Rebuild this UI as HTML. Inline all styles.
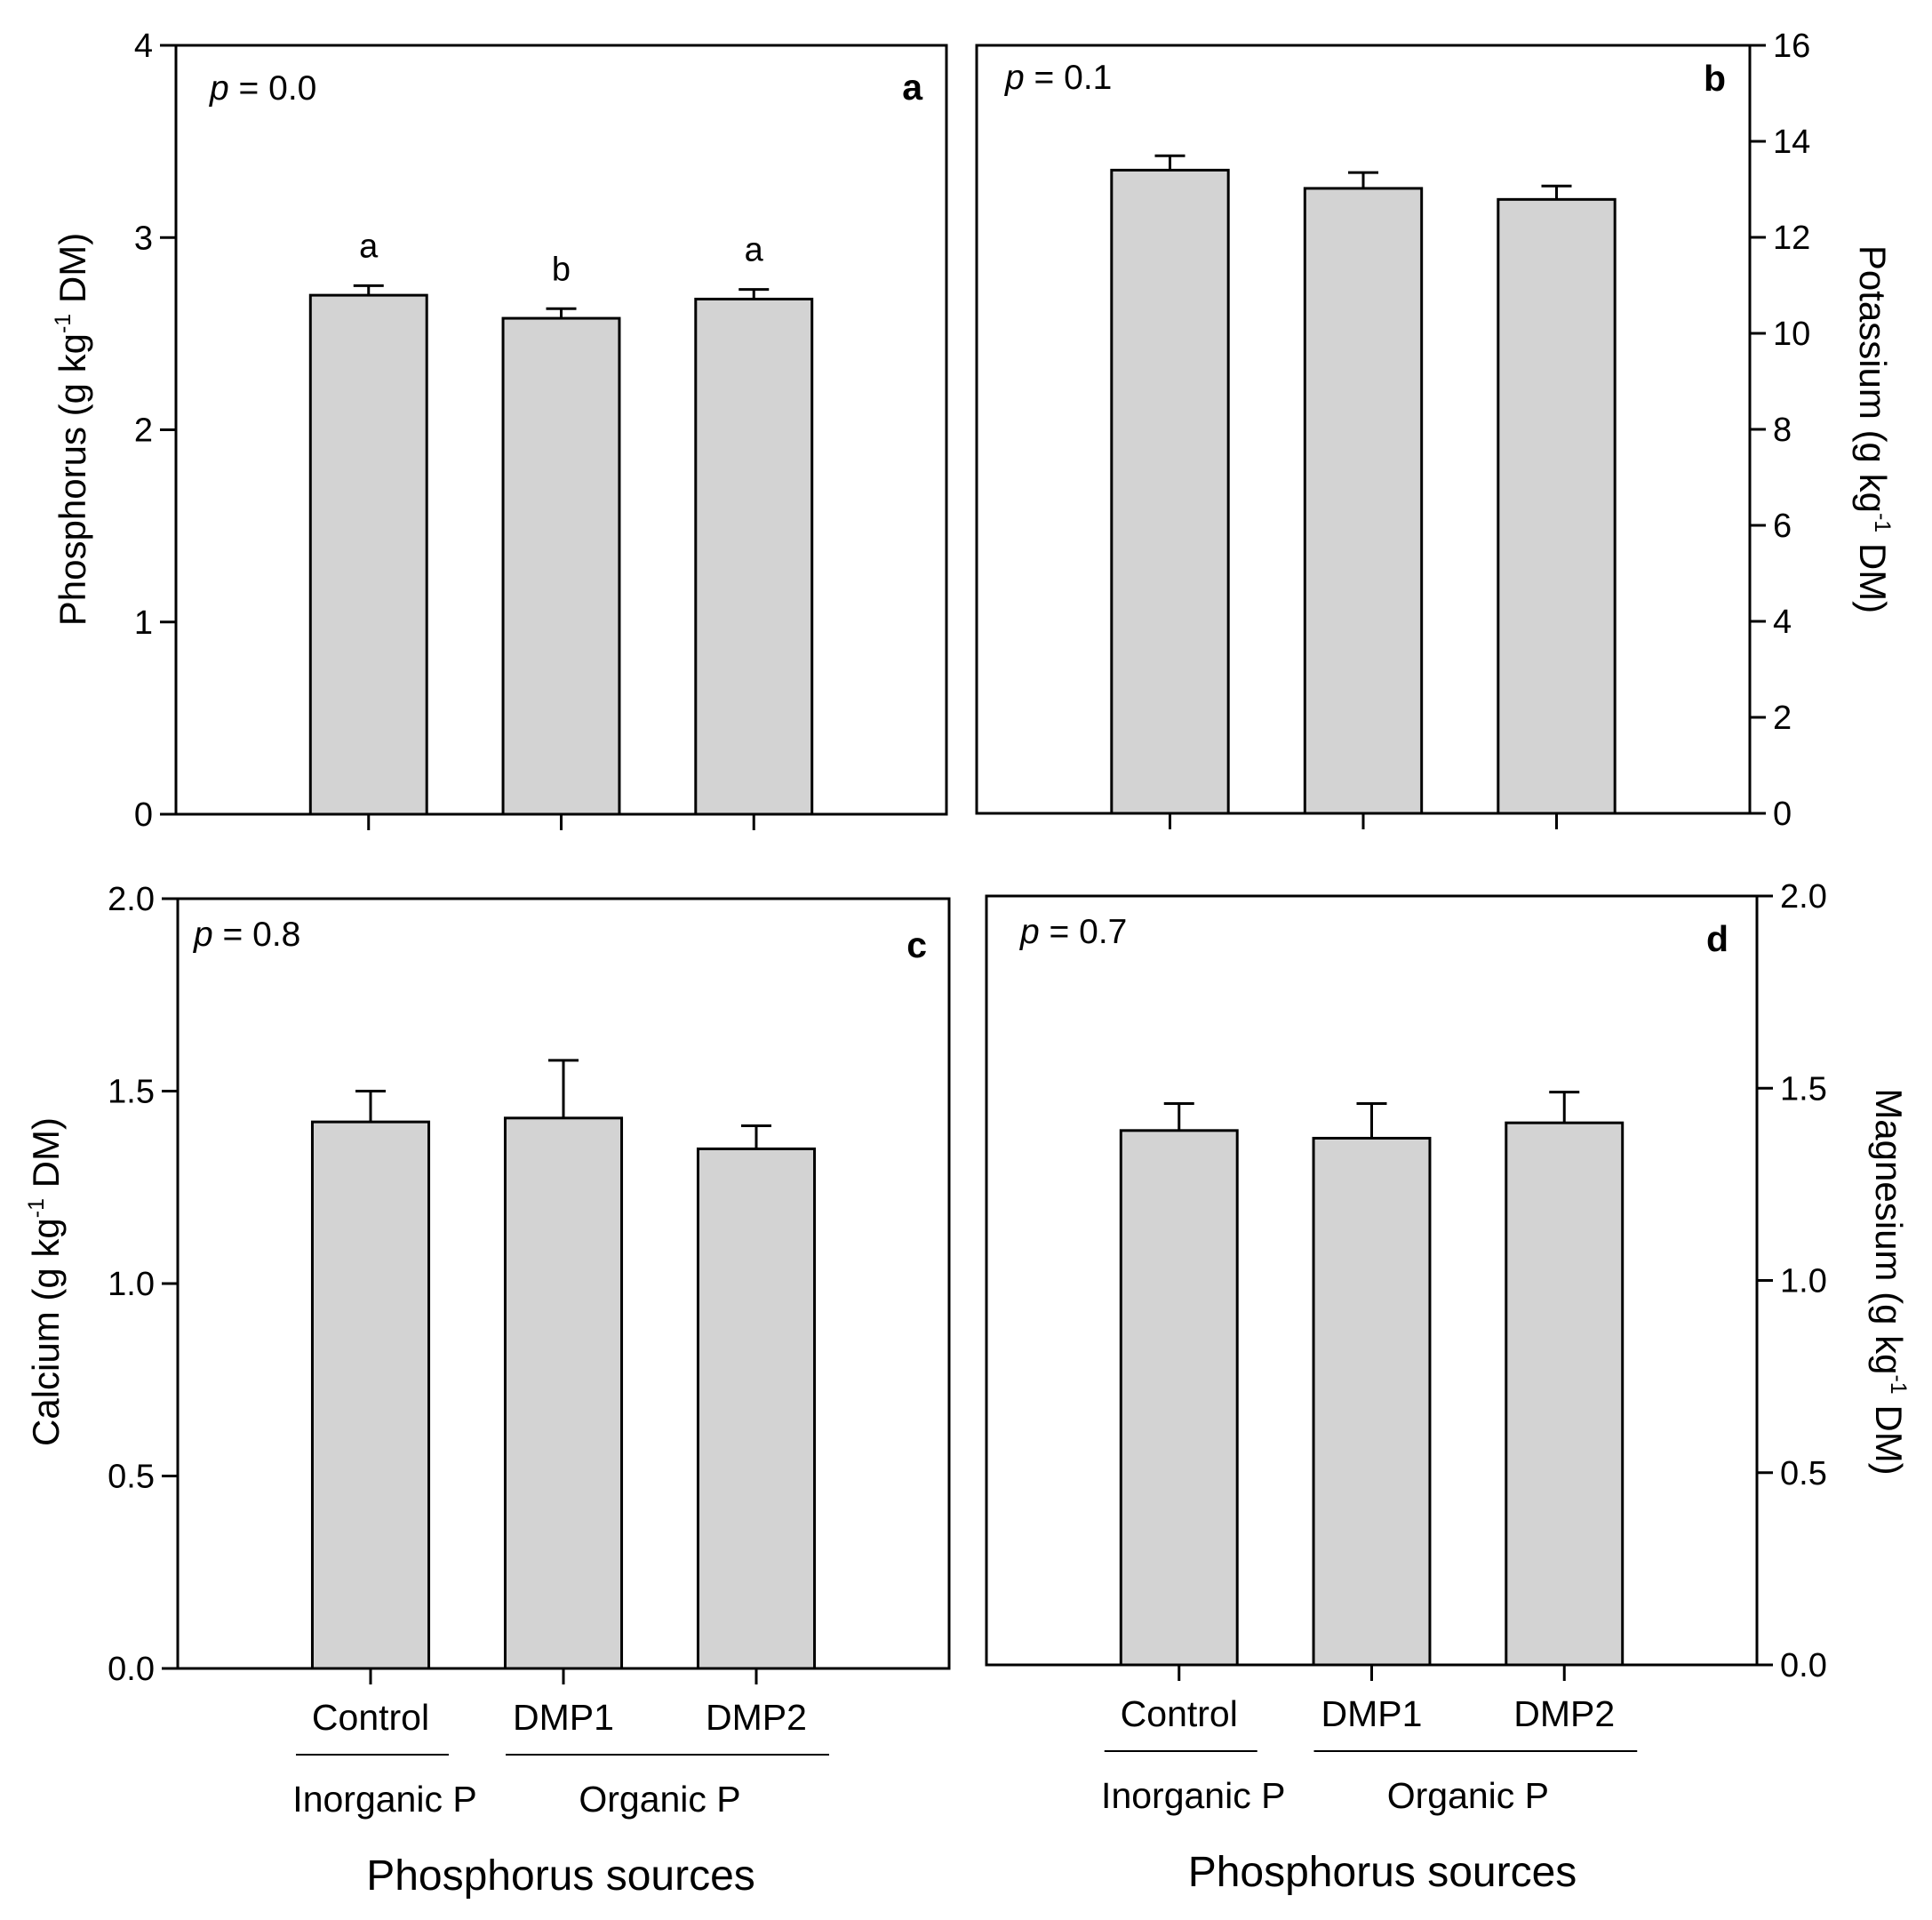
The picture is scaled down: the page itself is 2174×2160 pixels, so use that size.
<!DOCTYPE html>
<html><head><meta charset="utf-8"><style>
html,body{margin:0;padding:0;background:#fff}
svg{display:block;font-family:"Liberation Sans",Arial,sans-serif}
</style></head><body>
<svg id="fig" width="2174" height="2160" viewBox="0 0 2174 2160" xmlns="http://www.w3.org/2000/svg"></svg>
<script>
const categories = ["Control","DMP1","DMP2"];
const phosValues = [2.70, 2.58, 2.68];
const phosErrors = [0.05, 0.05, 0.05];
const phosLetters = ["a","b","a"];
const potValues = [13.4, 13.02, 12.79];
const potErrors = [0.3, 0.33, 0.28];
const calValues = [1.42, 1.43, 1.35];
const calErrors = [0.08, 0.15, 0.06];
const magValues = [1.39, 1.37, 1.41];
const magErrors = [0.07, 0.09, 0.08];
const ticksA = ["0","1","2","3","4"];
const ticksB = ["0","2","4","6","8","10","12","14","16"];
const ticksCD = ["0.0","0.5","1.0","1.5","2.0"];

const NS="http://www.w3.org/2000/svg";
const svg=document.getElementById('fig');
function el(tag,attrs,parent){const e=document.createElementNS(NS,tag);for(const k in attrs)e.setAttribute(k,attrs[k]);(parent||svg).appendChild(e);return e;}

function panel(o){
  const g=el('g',{});
  
  
  const {x0,x1,y0,y1,max,ticks,values,errors,side}=o;
  const w=x1-x0,h=y1-y0;
  const ys=v=>y1-v/max*h;
  const xs=i=>x0+w*(i+1)/4;
  const bw=w*0.151;
  values.forEach((v,i)=>{
    const cx=xs(i);
    const eb=el('line',{x1:cx,x2:cx,y1:ys(v),y2:ys(v+errors[i]),stroke:'#000','stroke-width':3},g);
    
    
    const cap=el('line',{x1:cx-17,x2:cx+17,y1:ys(v+errors[i]),y2:ys(v+errors[i]),stroke:'#000','stroke-width':3},g);
    
    
    const r=el('rect',{x:cx-bw/2,y:ys(v),width:bw,height:y1-ys(v),fill:'#d3d3d3',stroke:'#000','stroke-width':3},g);
    
    
    const t=el('line',{x1:cx,x2:cx,y1:y1,y2:y1+18,stroke:'#000','stroke-width':3},g);
    
    
    if(o.letters){
      const lt=el('text',{x:cx,y:ys(v+errors[i])-32,'font-size':38,'text-anchor':'middle'},g);
      lt.textContent=o.letters[i];
      
      
    }
  });
  const fr=el('rect',{x:x0,y:y0,width:w,height:h,fill:'none',stroke:'#000','stroke-width':3},g);
  
  
  ticks.forEach((lab,i)=>{
    const v=i*max/(ticks.length-1);const y=ys(v);
    const ax=side==='left'?x0:x1;const d=side==='left'?-18:18;
    const tk=el('line',{x1:ax,x2:ax+d,y1:y,y2:y,stroke:'#000','stroke-width':3},g);
    
    
    const tl=el('text',{x:side==='left'?ax-26:ax+26,y:y+13,'font-size':38,'text-anchor':side==='left'?'end':'start'},g);
    tl.textContent=lab;
    
    
  });
  const pt=el('text',{x:o.px,y:o.py,'font-size':39},g);
  pt.innerHTML='<tspan font-style="italic">p</tspan> = '+o.p;
  
  
  const pl=el('text',{x:o.lx,y:o.ly,'font-size':41,'font-weight':'bold','text-anchor':'end'},g);
  pl.textContent=o.label;
  
  
  const rot=side==='left'?-90:90;
  const yt=el('text',{x:o.tx,y:o.ty,'font-size':42,'text-anchor':'middle',transform:`rotate(${rot} ${o.tx} ${o.ty})`},g);
  yt.innerHTML=o.title+' (g kg<tspan dy="-17" font-size="25">-1</tspan><tspan dy="17"> DM)</tspan>';
  
  
  if(o.xlabels){
    categories.forEach((c,i)=>{
      const t=el('text',{x:xs(i),y:o.catY,'font-size':41,'text-anchor':'middle'},g);
      t.textContent=c;
      
      
    });
    const l1=el('line',{x1:xs(0)-84,x2:xs(0)+88,y1:o.catY+28,y2:o.catY+28,stroke:'#000','stroke-width':2},g);
    
    
    const l2=el('line',{x1:xs(1)-65,x2:xs(2)+82,y1:o.catY+28,y2:o.catY+28,stroke:'#000','stroke-width':2},g);
    
    
    const g1=el('text',{x:xs(0)+16,y:o.catY+92,'font-size':41,'text-anchor':'middle'},g);
    g1.textContent='Inorganic P';
    
    
    const g2=el('text',{x:(xs(1)+xs(2))/2,y:o.catY+92,'font-size':41,'text-anchor':'middle'},g);
    g2.textContent='Organic P';
    
    
    const xt=el('text',{x:(x0+x1)/2+o.xtShift,y:o.catY+180,'font-size':48,'text-anchor':'middle'},g);
    xt.textContent='Phosphorus sources';
    
    
  }
}
panel({name:'panel-a-phosphorus',x0:198,x1:1065,y0:51,y1:916,max:4,ticks:ticksA,values:phosValues,errors:phosErrors,letters:phosLetters,side:'left',px:236,py:112,p:'0.0',lx:1038,ly:112,label:'a',tx:96,ty:483,title:'Phosphorus'});
panel({name:'panel-b-potassium',x0:1099,x1:1969,y0:51,y1:915,max:16,ticks:ticksB,values:potValues,errors:potErrors,side:'right',px:1131,py:100,p:'0.1',lx:1942,ly:102,label:'b',tx:2093,ty:483,title:'Potassium'});
panel({name:'panel-c-calcium',x0:200,x1:1068,y0:1011,y1:1877,max:2,ticks:ticksCD,values:calValues,errors:calErrors,side:'left',px:218,py:1064,p:'0.8',lx:1043,ly:1077,label:'c',tx:66,ty:1442,title:'Calcium',xlabels:true,catY:1946,xtShift:-3});
panel({name:'panel-d-magnesium',x0:1110,x1:1977,y0:1008,y1:1873,max:2,ticks:ticksCD,values:magValues,errors:magErrors,side:'right',px:1148,py:1061,p:'0.7',lx:1945,ly:1070,label:'d',tx:2111,ty:1442,title:'Magnesium',xlabels:true,catY:1942,xtShift:12});
</script>
</body></html>
